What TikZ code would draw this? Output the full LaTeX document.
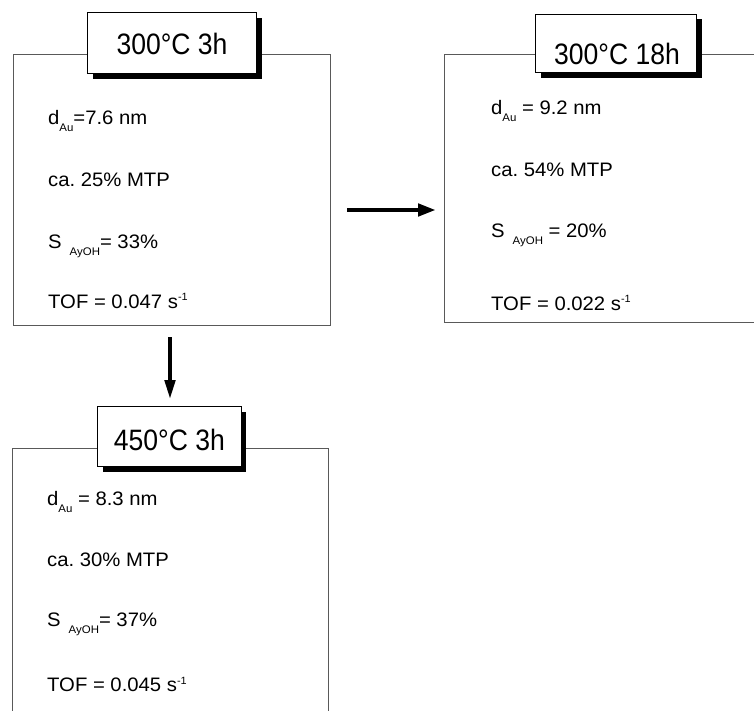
\documentclass[tikz,border=0pt]{standalone}
\usepackage{fontspec}
\setmainfont{Liberation Sans}
\newfontfamily\bodyfont[FakeStretch=1.04]{Liberation Sans}
\newfontfamily\titlefont[FakeStretch=0.9]{Liberation Sans}
\usetikzlibrary{arrows.meta,shadows}
\newcommand{\sbs}[1]{\raisebox{-7pt}{\fontsize{11}{11}\selectfont #1}}
\newcommand{\sps}[1]{\raisebox{7.5pt}{\fontsize{10.5}{10.5}\selectfont #1}}
\frenchspacing
\begin{document}
\frenchspacing
\begin{tikzpicture}[x=1pt,y=-1pt,
  mainbox/.style={draw=black!65, line width=1pt, fill=white},
  titlebox/.style={draw=black, line width=1.3pt, fill=white,
    drop shadow={shadow xshift=5pt, shadow yshift=-5pt, fill=black, opacity=1}},
  titletext/.style={anchor=base, inner sep=0pt, font=\titlefont\fontsize{29.5}{29.5}\selectfont},
  bodytext/.style={anchor=base west, inner sep=0pt, font=\bodyfont\fontsize{19.5}{19.5}\selectfont\frenchspacing},
  bigarrow/.style={line width=4.5pt, -{Triangle[length=18pt,width=12pt]}}]
\clip (0,0) rectangle (754,711);
\fill[white] (0,0) rectangle (754,711);

% box 1
\node[mainbox, anchor=north west, minimum width=317pt, minimum height=271pt, inner sep=0pt] (b1) at (13,54) {};
\node[titlebox, minimum width=169pt, minimum height=61pt, inner sep=0pt] (t1) at (172,43.3) {};
\node[titletext] (t1l) at (172,55) {300°C 3h};
\node[bodytext] (b1a) at (48,125) {d\sbs{Au}=7.6 nm};
\node[bodytext] (b1b) at (48,187) {ca. 25\% MTP};
\node[bodytext] (b1c) at (48,248) {S\hspace{8pt}\sbs{AyOH}= 33\%};
\node[bodytext] (b1d) at (48,308) {TOF = 0.047 s\sps{-1}};

% box 2
\node[mainbox, anchor=north west, minimum width=360pt, minimum height=268pt, inner sep=0pt] (b2) at (444,54) {};
\node[titlebox, minimum width=161pt, minimum height=58.4pt, inner sep=0pt] (t2) at (616.3,43.5) {};
\node[titletext] (t2l) at (617,65) {300°C 18h};
\node[bodytext] (b2a) at (491,115) {d\sbs{Au} = 9.2 nm};
\node[bodytext] (b2b) at (491,177) {ca. 54\% MTP};
\node[bodytext] (b2c) at (491,237) {S\hspace{8pt}\sbs{AyOH} = 20\%};
\node[bodytext] (b2d) at (491,310) {TOF = 0.022 s\sps{-1}};

% box 3
\node[mainbox, anchor=north west, minimum width=316pt, minimum height=300pt, inner sep=0pt] (b3) at (12,448) {};
\node[titlebox, minimum width=143.5pt, minimum height=60pt, inner sep=0pt] (t3) at (169.4,436.7) {};
\node[titletext] (t3l) at (169.4,450) {450°C 3h};
\node[bodytext] (b3a) at (47,505) {d\sbs{Au} = 8.3 nm};
\node[bodytext] (b3b) at (47,566.7) {ca. 30\% MTP};
\node[bodytext] (b3c) at (47,626.7) {S\hspace{8pt}\sbs{AyOH}= 37\%};
\node[bodytext] (b3d) at (47,691.7) {TOF = 0.045 s\sps{-1}};

% arrows
\coordinate (h1) at (347,210);
\coordinate (h2) at (436,210);
\coordinate (v1) at (170,337);
\coordinate (v2) at (170,400);
\draw[bigarrow] (h1) -- (h2);
\draw[line width=4.5pt, -{Triangle[length=20pt,width=10pt]}] (v1) -- (v2);
\end{tikzpicture}
\end{document}
